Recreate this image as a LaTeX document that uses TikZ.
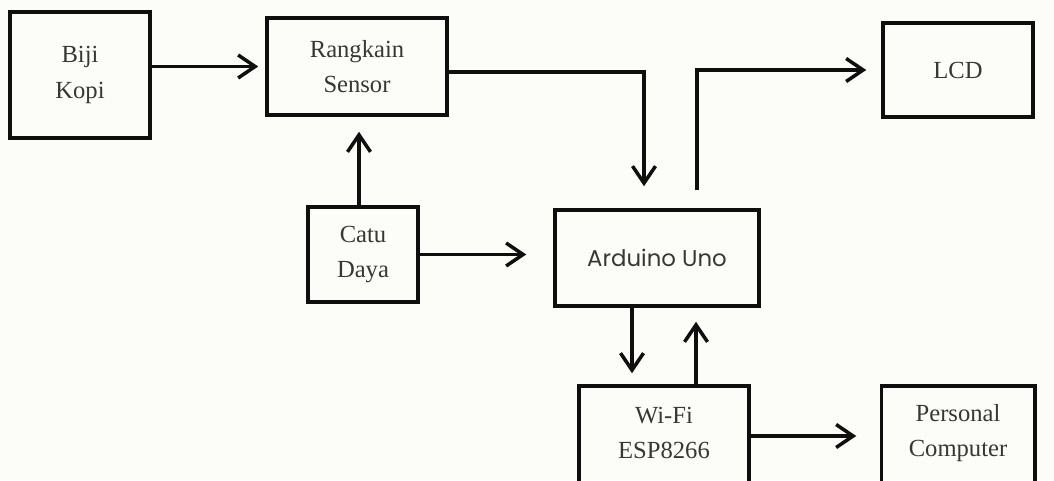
\documentclass[tikz,border=0pt]{standalone}
\usepackage{fontspec}
\setmainfont{Liberation Serif}
\newfontfamily\unofont{Poppins}
\usepackage{tikz}
\usetikzlibrary{
  arrows.meta,
  positioning
}
\definecolor{blokline}{RGB}{15,15,15}
\definecolor{bloktext}{RGB}{55,55,55}
\definecolor{blokpaper}{RGB}{252,252,249}
\tikzset{
  blokNode/.style={
    rectangle,
    draw=blokline,
    line width=2pt,
    text=bloktext,
    font=\fontsize{14}{20}\selectfont,
    align=center,
    inner sep=0pt
  },
  blokOpen/.style={
    blokNode,
    draw=none
  },
  blokFrame/.style={
    draw=blokline,
    line width=2pt
  },
  blokArrow/.style={
    -{Straight Barb[length=3.4mm,width=4.6mm]},
    line width=2pt,
    draw=blokline
  }
}

\begin{document}
\begin{tikzpicture}[x=0.2mm, y=-0.2mm]
  \fill[blokpaper] (0,0) rectangle (1054,480);
  \useasboundingbox (0,0) rectangle (1054,480);

  % upper row
  \node[blokNode, minimum width=28mm, minimum height=25.2mm]
    (biji) at (80,75) {Biji\\Kopi};
  \node[blokNode, minimum width=36mm, minimum height=19.4mm]
    (sensor) at (357,66.5) {Rangkain\\Sensor};
  \node[blokNode, minimum width=30mm, minimum height=18.8mm]
    (lcd) at (958,70) {LCD};

  % middle row
  \node[blokNode, minimum width=22mm, minimum height=19mm]
    (catu) at (363,254.5) {Catu\\Daya};
  \node[blokNode, minimum width=40.8mm, minimum height=19.2mm,
    font=\unofont\fontsize{13}{16}\selectfont]
    (arduino) at (657,258) {Arduino Uno};

  % lower row, cut by the page edge
  \node[blokOpen, minimum width=33.2mm, minimum height=18mm]
    (wifi) at (664,433) {Wi-Fi\\ESP8266};
  \node[blokOpen, minimum width=30mm, minimum height=18mm]
    (pc) at (958,433) {Personal\\Computer};
  \draw[blokFrame] ([yshift=-3mm]wifi.south west) -- (wifi.north west)
    -- (wifi.north east) -- ([yshift=-3mm]wifi.south east);
  \draw[blokFrame] ([yshift=-3mm]pc.south west) -- (pc.north west)
    -- (pc.north east) -- ([yshift=-3mm]pc.south east);

  % connections
  \draw[blokArrow, shorten >=1.4mm] (biji.east |- sensor.west) -- (sensor.west);
  \draw[blokArrow, shorten >=4.4mm]
    ([yshift=-1.1mm]sensor.east) -| ([xshift=-2.6mm]arduino.north);
  \draw[blokArrow, shorten <=3.6mm, shorten >=3mm]
    ([xshift=8mm]arduino.north) |- (lcd.west);
  \draw[blokArrow, shorten >=3mm]
    ([xshift=-0.8mm]catu.north) -- ([xshift=-0.8mm]catu.north |- sensor.south);
  \draw[blokArrow, shorten >=5.4mm] (catu.east) -- (catu.east -| arduino.west);
  \draw[blokArrow, shorten >=2.6mm]
    ([xshift=-5mm]arduino.south) -- ([xshift=-5mm]arduino.south |- wifi.north);
  \draw[blokArrow, shorten >=2.8mm]
    ([xshift=6.4mm]wifi.north) -- ([xshift=6.4mm]wifi.north |- arduino.south);
  \draw[blokArrow, shorten >=5mm]
    ([yshift=-0.6mm]wifi.east) -- ([yshift=-0.6mm]wifi.east -| pc.west);
\end{tikzpicture}
\end{document}
